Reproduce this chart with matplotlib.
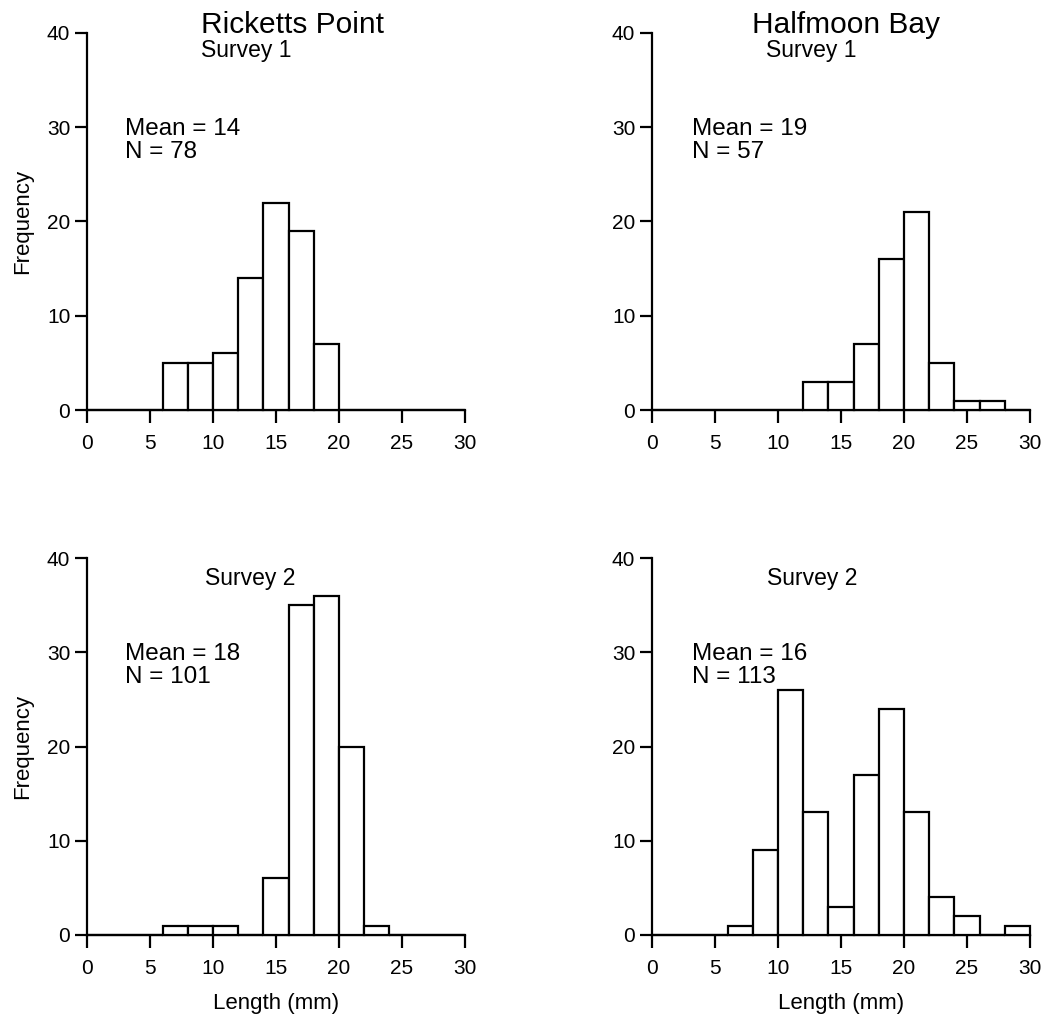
import numpy as np
import matplotlib.pyplot as plt

plt.rcParams['font.family'] = ['Liberation Sans', 'DejaVu Sans']

bin_left = np.arange(0, 30, 2)

# counts per 2 mm bin, 0-30 mm
rp_survey1 = [0, 0, 0, 5, 5, 6, 14, 22, 19, 7, 0, 0, 0, 0, 0]
hb_survey1 = [0, 0, 0, 0, 0, 0, 3, 3, 7, 16, 21, 5, 1, 1, 0]
rp_survey2 = [0, 0, 0, 1, 1, 1, 0, 6, 35, 36, 20, 1, 0, 0, 0]
hb_survey2 = [0, 0, 0, 1, 9, 26, 13, 3, 17, 24, 13, 4, 2, 0, 1]

sites = ['Ricketts Point', 'Halfmoon Bay']
surveys = ['Survey 1', 'Survey 2']
means = [[14, 19], [18, 16]]
ns = [[78, 57], [101, 113]]
counts = [[rp_survey1, hb_survey1], [rp_survey2, hb_survey2]]

fig = plt.figure(figsize=(10.46, 10.16), dpi=100)
W, H = 1046, 1016
lefts = [87, 652]
zeros = [410, 935]
aw, ah = 378, 377

# text positions (data coords) per panel: title x, survey x/y, stats x
title_x = [9.05, 7.94]
survey_pos = [[(9.05, 37.5), (9.05, 37.5)], [(9.37, 37.1), (9.13, 37.1)]]
stats_x = [[3.0, 3.17], [3.0, 3.17]]

for r in range(2):
    for c in range(2):
        ax = fig.add_axes([lefts[c] / W, (H - zeros[r]) / H, aw / W, ah / H])
        ax.bar(bin_left, counts[r][c], width=2, align='edge', facecolor='white',
               edgecolor='black', linewidth=1.6, clip_on=False, zorder=3)
        ax.set_xlim(0, 30)
        ax.set_ylim(0, 40)
        ax.set_xticks(range(0, 31, 5))
        ax.set_yticks(range(0, 41, 10))
        for s in ['top', 'right']:
            ax.spines[s].set_visible(False)
        for s in ['left', 'bottom']:
            ax.spines[s].set_linewidth(1.6)
        ax.tick_params(direction='out', length=9, width=1.6, labelsize=15)
        ax.tick_params(axis='x', pad=8)
        ax.tick_params(axis='y', pad=3)
        if r == 0:
            ax.text(title_x[c], 40.0, sites[c], fontsize=21.5, va='baseline')
        sx, sy = survey_pos[r][c]
        ax.text(sx, sy, surveys[r], fontsize=16.5, va='baseline')
        ax.text(stats_x[r][c], 29.2, f'Mean = {means[r][c]}', fontsize=17.5, va='baseline')
        ax.text(stats_x[r][c], 26.7, f'N = {ns[r][c]}', fontsize=17.5, va='baseline')
        if c == 0:
            ax.set_ylabel('Frequency', fontsize=16, labelpad=10)
        if r == 1:
            ax.set_xlabel('Length (mm)', fontsize=16, labelpad=11)

fig.savefig('out.png', dpi=100)
